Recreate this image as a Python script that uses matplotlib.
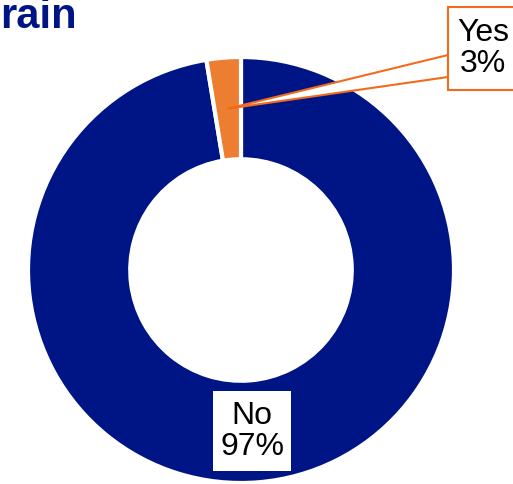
import numpy as np
import matplotlib.pyplot as plt
from matplotlib.patches import Rectangle, Polygon

labels = ["No", "Yes"]
values = [97.4, 2.6]
colors = ["#001585", "#ed7d31"]
title = "rain"

W, H = 513, 484
plt.rcParams["font.family"] = ["Liberation Sans", "DejaVu Sans"]
fig = plt.figure(figsize=(W / 100, H / 100), dpi=100)
ax = fig.add_axes([0, 0, 1, 1])

cx, cy = 241, H - 270
R = 213
ring = 0.48

wedges, _ = ax.pie(values, colors=colors, startangle=90, counterclock=False,
                   center=(cx, cy), radius=R,
                   wedgeprops=dict(width=R * ring, edgecolor="white", linewidth=3))
# pie resets the limits, so set them afterwards
ax.set_xlim(0, W)
ax.set_ylim(0, H)
ax.set_aspect("equal")
ax.axis("off")

ax.text(0, H - 28, title, fontsize=30, fontweight="bold", color="#001585",
        ha="left", va="baseline")

rmid = R * (1 - ring / 2)
edge = "#f26b1d"
total = sum(values)
for w, lab, v in zip(wedges, labels, values):
    ang = np.deg2rad((w.theta1 + w.theta2) / 2)
    px, py = cx + rmid * np.cos(ang), cy + rmid * np.sin(ang)
    txt = f"{lab}\n{round(100 * v / total)}%"
    if lab == "Yes":
        bx0, by0, bw, bh = 448, H - 90, 90, 83
        ax.add_patch(Polygon([(bx0, H - 55), (px, py), (bx0, H - 77)],
                             closed=True, facecolor="white", edgecolor=edge,
                             linewidth=1.5, zorder=3))
        ax.add_patch(Rectangle((bx0, by0), bw, bh, facecolor="white",
                               edgecolor=edge, linewidth=1.5, zorder=4))
        ax.text(483, by0 + bh / 2, txt, fontsize=23, ha="center", va="center",
                linespacing=1.05, zorder=5)
    else:
        bw, bh = 78, 80
        ax.add_patch(Rectangle((px - bw / 2 - 2, py - bh / 2), bw, bh,
                               facecolor="white", edgecolor="none", zorder=4))
        ax.text(px - 2, py, txt, fontsize=23, ha="center", va="center",
                linespacing=1.05, zorder=5)

fig.savefig("out.png", dpi=100)
